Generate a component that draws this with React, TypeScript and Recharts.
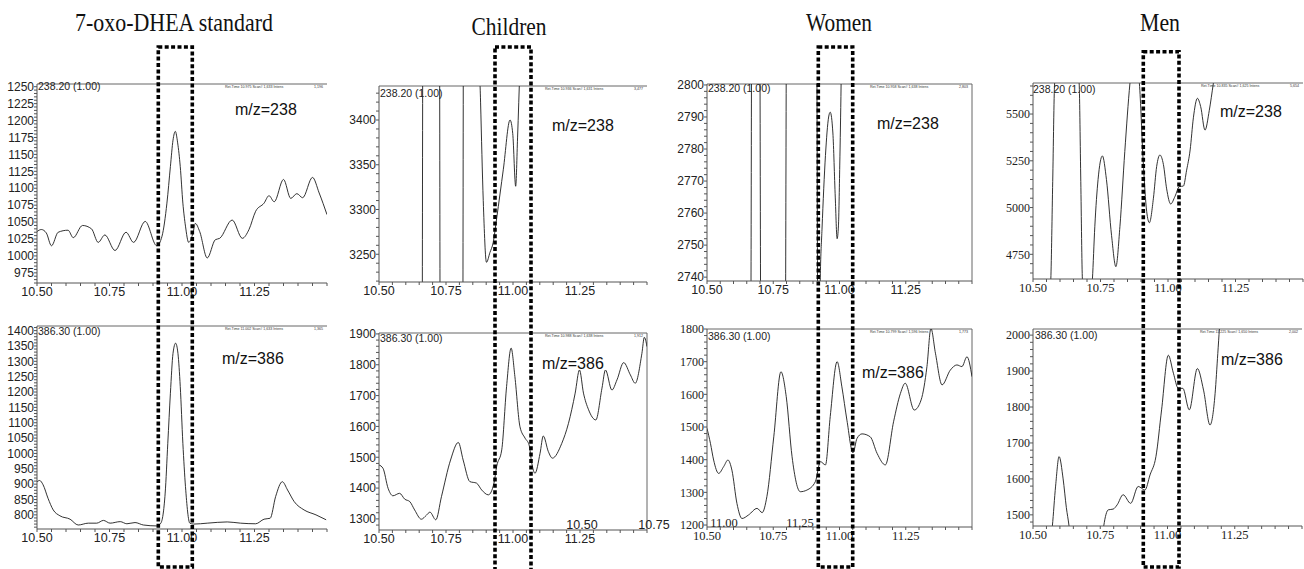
import React from 'react';
import { LineChart, Line, XAxis, YAxis, ReferenceLine } from 'recharts';

type Pt = [number, number];

// Column headings
const GROUPS = ['7-oxo-DHEA standard', 'Children', 'Women', 'Men'];

// Shared retention-time axis (min)
const X_DOMAIN: [number, number] = [10.5, 11.5];
const X_TICKS = [10.5, 10.75, 11.0, 11.25];

// Trace labels
const ION_LABELS = ['238.20 (1.00)', '386.30 (1.00)'];
const MZ_LABELS = ['m/z=238', 'm/z=386'];

// Scan header info (Ret.Time, Scan#, Intens) for each trace
const RET_TIMES = ['10.975', '11.002', '10.936', '10.988', '10.958', '10.799', '10.835', '11.225'];
const SCANS = ['1,633', '1,633', '1,631', '1,638', '1,638', '1,596', '1,625', '1,650'];
const INTENS = ['1,196', '1,365', '3,477', '1,912', '2,803', '1,773', '5,654', '2,002'];

// ---- Ion traces: [retention time, intensity] ----
const STD_238: Pt[] = [
  [10.5, 1036], [10.515, 1039], [10.532, 1034], [10.55, 1015], [10.573, 1035], [10.607, 1038],
  [10.625, 1027], [10.657, 1045], [10.688, 1040], [10.711, 1020], [10.734, 1031], [10.769, 1008],
  [10.807, 1035], [10.833, 1020], [10.873, 1051], [10.913, 1015], [10.931, 1029], [10.948, 1078],
  [10.96, 1132], [10.969, 1171], [10.977, 1184], [10.985, 1167], [10.994, 1132], [11.003, 1078],
  [11.012, 1044], [11.023, 1020], [11.038, 1034], [11.046, 1048], [11.061, 1036], [11.087, 997],
  [11.115, 1024], [11.13, 1026], [11.173, 1053], [11.208, 1026], [11.231, 1039], [11.254, 1066],
  [11.283, 1078], [11.3, 1089], [11.318, 1080], [11.35, 1113], [11.375, 1085], [11.396, 1092],
  [11.416, 1086], [11.45, 1116], [11.473, 1093], [11.5, 1061],
];

const STD_386: Pt[] = [
  [10.5, 908], [10.509, 912], [10.521, 898], [10.538, 854], [10.556, 816], [10.579, 797],
  [10.614, 786], [10.642, 767], [10.677, 773], [10.706, 773], [10.729, 782], [10.752, 773],
  [10.787, 778], [10.81, 771], [10.838, 775], [10.867, 767], [10.913, 764], [10.927, 773],
  [10.942, 871], [10.951, 1033], [10.96, 1196], [10.969, 1326], [10.978, 1359], [10.986, 1326],
  [10.994, 1218], [11.003, 1033], [11.012, 892], [11.027, 773], [11.04, 770], [11.087, 773],
  [11.156, 777], [11.202, 773], [11.254, 771], [11.283, 786], [11.304, 789], [11.323, 860],
  [11.346, 908], [11.364, 881], [11.387, 843], [11.421, 816], [11.462, 800], [11.497, 784],
];

const CHILD_238: Pt[] = [
  [10.5, 2600], [10.6, 2200], [10.652, 2000], [10.672, 4700], [10.69, 5000], [10.717, 4700],
  [10.737, 2000], [10.77, 1800], [10.804, 2000], [10.824, 4700], [10.845, 4800], [10.872, 3500],
  [10.879, 3420], [10.889, 3310], [10.901, 3241], [10.914, 3252], [10.926, 3263], [10.939, 3290],
  [10.964, 3345], [10.989, 3400], [10.999, 3385], [11.01, 3326], [11.017, 3380], [11.026, 3460],
  [11.064, 3700], [11.5, 3900],
];

const CHILD_386: Pt[] = [
  [10.5, 1475], [10.515, 1464], [10.534, 1399], [10.552, 1375], [10.577, 1383], [10.596, 1364],
  [10.615, 1356], [10.633, 1329], [10.658, 1299], [10.677, 1312], [10.69, 1322], [10.712, 1297],
  [10.733, 1372], [10.767, 1491], [10.796, 1548], [10.814, 1491], [10.839, 1421], [10.864, 1416],
  [10.883, 1394], [10.908, 1378], [10.929, 1416], [10.939, 1470], [10.958, 1524], [10.976, 1729],
  [10.993, 1854], [11.007, 1762], [11.026, 1599], [11.045, 1562], [11.06, 1540], [11.07, 1481],
  [11.082, 1448], [11.101, 1513], [11.113, 1569], [11.132, 1518], [11.147, 1497], [11.182, 1545],
  [11.207, 1610], [11.232, 1708], [11.248, 1783], [11.263, 1708], [11.282, 1654], [11.309, 1621],
  [11.332, 1724], [11.345, 1783], [11.369, 1718], [11.388, 1751], [11.413, 1807], [11.438, 1767],
  [11.456, 1740], [11.481, 1837], [11.49, 1889], [11.5, 1859],
];

const WOMEN_238: Pt[] = [
  [10.5, 2700], [10.638, 2690], [10.664, 2700], [10.671, 2900], [10.679, 2950], [10.696, 2900],
  [10.706, 2650], [10.739, 2600], [10.792, 2650], [10.804, 2900], [10.852, 2950], [10.91, 2900],
  [10.92, 2700], [10.928, 2742], [10.934, 2755], [10.947, 2778], [10.959, 2790], [10.965, 2791.5],
  [10.975, 2785], [10.984, 2765], [10.991, 2752], [10.996, 2756], [11.001, 2775], [11.006, 2800],
  [11.013, 2850], [11.079, 2950], [11.5, 3000],
];

const WOMEN_386: Pt[] = [
  [10.5, 1496], [10.513, 1450], [10.525, 1399], [10.544, 1358], [10.563, 1379], [10.579, 1399],
  [10.594, 1368], [10.613, 1266], [10.632, 1220], [10.657, 1231], [10.689, 1251], [10.708, 1238],
  [10.726, 1287], [10.752, 1470], [10.779, 1669], [10.799, 1593], [10.821, 1409], [10.852, 1302],
  [10.877, 1307], [10.909, 1333], [10.928, 1394], [10.947, 1384], [10.965, 1532], [10.991, 1700],
  [11.009, 1623], [11.028, 1521], [11.051, 1421], [11.066, 1465], [11.085, 1479], [11.116, 1470],
  [11.142, 1419], [11.173, 1384], [11.204, 1516], [11.23, 1603], [11.248, 1634], [11.282, 1552],
  [11.308, 1583], [11.33, 1685], [11.345, 1802], [11.362, 1726], [11.387, 1629], [11.418, 1674],
  [11.443, 1690], [11.462, 1685], [11.481, 1715], [11.5, 1654],
];

const MEN_238: Pt[] = [
  [10.5, 4300], [10.556, 4400], [10.566, 4616], [10.573, 5140], [10.58, 5664], [10.599, 5900],
  [10.655, 5900], [10.671, 5664], [10.677, 5140], [10.683, 4616], [10.698, 4400], [10.717, 4550],
  [10.72, 4616], [10.729, 4900], [10.741, 5150], [10.757, 5276], [10.772, 5150], [10.791, 4850],
  [10.807, 4684], [10.822, 4900], [10.84, 5300], [10.859, 5664], [10.874, 5850], [10.886, 5750],
  [10.894, 5664], [10.908, 5250], [10.921, 4980], [10.931, 4919], [10.946, 5050], [10.958, 5220],
  [10.97, 5281], [10.983, 5230], [10.995, 5100], [11.01, 5019], [11.026, 5060], [11.042, 5112],
  [11.057, 5115], [11.069, 5200], [11.082, 5308], [11.094, 5480], [11.109, 5584], [11.121, 5540],
  [11.137, 5414], [11.153, 5520], [11.168, 5664], [11.183, 5800], [11.5, 6000],
];

const MEN_386: Pt[] = [
  [10.5, 1300], [10.562, 1400], [10.572, 1469], [10.584, 1580], [10.597, 1662], [10.612, 1600],
  [10.624, 1520], [10.634, 1469], [10.649, 1350], [10.724, 1300], [10.755, 1420], [10.763, 1469],
  [10.78, 1514], [10.798, 1516], [10.813, 1528], [10.835, 1556], [10.863, 1532], [10.891, 1579],
  [10.916, 1569], [10.935, 1611], [10.957, 1662], [10.978, 1792], [11.003, 1944], [11.022, 1894],
  [11.04, 1852], [11.057, 1852], [11.081, 1792], [11.111, 1907], [11.134, 1847], [11.158, 1750],
  [11.177, 1838], [11.187, 1949], [11.193, 2017], [11.208, 2100], [11.5, 2200],
];

// ---- Intensity axis labels ----
const Y_TICKS_STD_238 = [975, 1000, 1025, 1050, 1075, 1100, 1125, 1150, 1175, 1200, 1225, 1250];
const Y_TICKS_STD_386 = [800, 850, 900, 950, 1000, 1050, 1100, 1150, 1200, 1250, 1300, 1350, 1400];
const Y_TICKS_CHILD_238 = [3250, 3300, 3350, 3400];
const Y_TICKS_CHILD_386 = [1300, 1400, 1500, 1600, 1700, 1800, 1900];
const Y_TICKS_WOMEN_238 = [2740, 2750, 2760, 2770, 2780, 2790, 2800];
const Y_TICKS_WOMEN_386 = [1200, 1300, 1400, 1500, 1600, 1700, 1800];
const Y_TICKS_MEN_238 = [4750, 5000, 5250, 5500];
const Y_TICKS_MEN_386 = [1500, 1600, 1700, 1800, 1900, 2000];

// Stray axis labels printed inside two of the bottom traces
const CHILD_EXTRA_LABELS = ['10.50', '10.75'];
const WOMEN_EXTRA_LABELS = ['11.00', '11.25'];

const SANS = '"Liberation Sans", Arial, sans-serif';
const SERIF = '"Liberation Serif", "Times New Roman", serif';

interface PanelCfg {
  points: Pt[];
  yDomain: [number, number];
  yMajor: number[];
  yMinorStep: number;
  x0: number; x1: number; y0: number; y1: number;
  serif: boolean;
  rightBorder: boolean;
  ion: number;
  ionAt: [number, number];
  mzAt: [number, number];
}

const PANELS: PanelCfg[] = [
  { points: STD_238, yDomain: [960, 1254], yMajor: Y_TICKS_STD_238, yMinorStep: 5,
    x0: 37, x1: 327, y0: 84, y1: 283, serif: false, rightBorder: false, ion: 0, ionAt: [38, 90], mzAt: [235, 115] },
  { points: STD_386, yDomain: [754, 1415], yMajor: Y_TICKS_STD_386, yMinorStep: 10,
    x0: 37, x1: 327, y0: 326, y1: 529, serif: false, rightBorder: false, ion: 1, ionAt: [38, 335], mzAt: [222, 364] },
  { points: CHILD_238, yDomain: [3219, 3438], yMajor: Y_TICKS_CHILD_238, yMinorStep: 10,
    x0: 379, x1: 647, y0: 86, y1: 282, serif: false, rightBorder: false, ion: 0, ionAt: [380, 97], mzAt: [552, 131] },
  { points: CHILD_386, yDomain: [1264, 1903], yMajor: Y_TICKS_CHILD_386, yMinorStep: 20,
    x0: 379, x1: 647, y0: 333, y1: 530, serif: false, rightBorder: true, ion: 1, ionAt: [380, 342], mzAt: [542, 369] },
  { points: WOMEN_238, yDomain: [2738.8, 2800.3], yMajor: Y_TICKS_WOMEN_238, yMinorStep: 2,
    x0: 707, x1: 972, y0: 84, y1: 281, serif: false, rightBorder: true, ion: 0, ionAt: [708, 91.5], mzAt: [877, 129] },
  { points: WOMEN_386, yDomain: [1194, 1800], yMajor: Y_TICKS_WOMEN_386, yMinorStep: 20,
    x0: 707, x1: 972, y0: 329, y1: 527, serif: true, rightBorder: true, ion: 1, ionAt: [708, 339.5], mzAt: [862, 378] },
  { points: MEN_238, yDomain: [4618, 5666], yMajor: Y_TICKS_MEN_238, yMinorStep: 50,
    x0: 1033, x1: 1303, y0: 83, y1: 279, serif: true, rightBorder: false, ion: 0, ionAt: [1033, 93], mzAt: [1220, 117] },
  { points: MEN_386, yDomain: [1469, 2017], yMajor: Y_TICKS_MEN_386, yMinorStep: 20,
    x0: 1033, x1: 1302, y0: 329, y1: 526, serif: true, rightBorder: false, ion: 1, ionAt: [1035, 339], mzAt: [1221, 365] },
];

// Dotted highlight boxes around the 7-oxo-DHEA elution window
const BOXES = [
  { x: 158.3, y: 47, w: 34, h: 520 },
  { x: 495, y: 47, w: 36, h: 530 },
  { x: 818.3, y: 47, w: 34.4, h: 520 },
  { x: 1143.3, y: 51.7, w: 35.7, h: 515.3 },
];

const TITLE_LAYOUT = [
  { cx: 174, base: 31, w: 198 },
  { cx: 509, base: 35, w: 75 },
  { cx: 839, base: 31, w: 66 },
  { cx: 1160, base: 31, w: 40 },
];

const AX_W = 45;
const AX_H = 25;
const M_TOP = 10;
const M_RIGHT = 5;

function stepTicks(lo: number, hi: number, step: number): number[] {
  const out: number[] = [];
  const start = Math.ceil(lo / step - 1e-9);
  for (let k = start; k * step <= hi + 1e-9; k++) {
    out.push(Math.round(k * step * 1000) / 1000);
  }
  return out;
}

const X_MINOR = stepTicks(X_DOMAIN[0], X_DOMAIN[1], 0.05);

function isIn(list: number[], v: number) {
  return list.some((m) => Math.abs(m - v) < 1e-6);
}

function Panel({ cfg }: { cfg: PanelCfg }) {
  const data = cfg.points.map(([t, v]) => ({ t, v }));
  const width = cfg.x1 - cfg.x0 + AX_W + M_RIGHT;
  const height = cfg.y1 - cfg.y0 + M_TOP + AX_H;
  const font = cfg.serif ? SERIF : SANS;
  const yTicks = stepTicks(cfg.yDomain[0], cfg.yDomain[1], cfg.yMinorStep);
  return (
    <div style={{ position: 'absolute', left: cfg.x0 - AX_W, top: cfg.y0 - M_TOP }}>
      <LineChart
        width={width}
        height={height}
        data={data}
        margin={{ top: M_TOP, right: M_RIGHT, bottom: 0, left: 0 }}
      >
        <XAxis
          dataKey="t"
          type="number"
          domain={X_DOMAIN}
          allowDataOverflow
          ticks={X_MINOR}
          interval={0}
          tickFormatter={(v: number) => (isIn(X_TICKS, v) ? v.toFixed(2) : '')}
          height={AX_H}
          tickSize={3}
          tickMargin={1}
          stroke="#555"
          tick={{ fontSize: 12.5, fontFamily: font, fill: '#222' }}
        />
        <YAxis
          type="number"
          domain={cfg.yDomain}
          allowDataOverflow
          ticks={yTicks}
          interval={0}
          tickFormatter={(v: number) => (isIn(cfg.yMajor, v) ? String(v) : '')}
          width={AX_W}
          tickSize={3}
          tickMargin={0}
          stroke="#555"
          tick={{ fontSize: 12, fontFamily: font, fill: '#222' }}
        />
        <ReferenceLine y={cfg.yDomain[1]} stroke="#666" strokeWidth={1} />
        {cfg.rightBorder && <ReferenceLine x={X_DOMAIN[1]} stroke="#666" strokeWidth={1} />}
        <Line
          type="monotone"
          dataKey="v"
          stroke="#1c1c1c"
          strokeWidth={0.9}
          dot={false}
          isAnimationActive={false}
        />
      </LineChart>
    </div>
  );
}

function Overlay() {
  return (
    <svg
      width={1304}
      height={569}
      style={{ position: 'absolute', left: 0, top: 0, pointerEvents: 'none' }}
    >
      {GROUPS.map((g, i) => (
        <text
          key={g}
          x={TITLE_LAYOUT[i].cx}
          y={TITLE_LAYOUT[i].base}
          textAnchor="middle"
          fontFamily={SERIF}
          fontSize={26}
          textLength={TITLE_LAYOUT[i].w}
          lengthAdjust="spacingAndGlyphs"
          fill="#111"
        >
          {g}
        </text>
      ))}

      {PANELS.map((p, i) => (
        <g key={i}>
          <text x={p.ionAt[0]} y={p.ionAt[1]} fontFamily={SANS} fontSize={10.5} fill="#222">
            {ION_LABELS[p.ion]}
          </text>
          <text x={p.mzAt[0]} y={p.mzAt[1]} fontFamily={SANS} fontSize={16} fill="#111">
            {MZ_LABELS[p.ion]}
          </text>
          <text x={p.x1 - 102} y={p.y0 + 4} fontFamily={SANS} fontSize={3.6} fill="#333">
            {`Ret.Time  ${RET_TIMES[i]}   Scan#  ${SCANS[i]}   Intens`}
          </text>
          <text x={p.x1 - 13} y={p.y0 + 4} fontFamily={SANS} fontSize={3.6} fill="#333">
            {INTENS[i]}
          </text>
        </g>
      ))}

      <text x={582} y={529} textAnchor="middle" fontFamily={SANS} fontSize={12.5} fill="#222">
        {CHILD_EXTRA_LABELS[0]}
      </text>
      <text x={654} y={529} textAnchor="middle" fontFamily={SANS} fontSize={12.5} fill="#222">
        {CHILD_EXTRA_LABELS[1]}
      </text>
      <text x={724} y={527} textAnchor="middle" fontFamily={SERIF} fontSize={12.5} fill="#222">
        {WOMEN_EXTRA_LABELS[0]}
      </text>
      <text x={800} y={527} textAnchor="middle" fontFamily={SERIF} fontSize={12.5} fill="#222">
        {WOMEN_EXTRA_LABELS[1]}
      </text>

      {BOXES.map((b, i) => (
        <rect
          key={i}
          x={b.x}
          y={b.y}
          width={b.w}
          height={b.h}
          fill="none"
          stroke="#000"
          strokeWidth={3.6}
          strokeDasharray="4 2.4"
        />
      ))}
    </svg>
  );
}

export default function App() {
  return (
    <div
      style={{
        position: 'absolute',
        left: 0,
        top: 0,
        width: 1304,
        height: 569,
        background: '#fff',
        overflow: 'hidden',
      }}
    >
      {PANELS.map((p, i) => (
        <Panel key={i} cfg={p} />
      ))}
      <Overlay />
    </div>
  );
}
